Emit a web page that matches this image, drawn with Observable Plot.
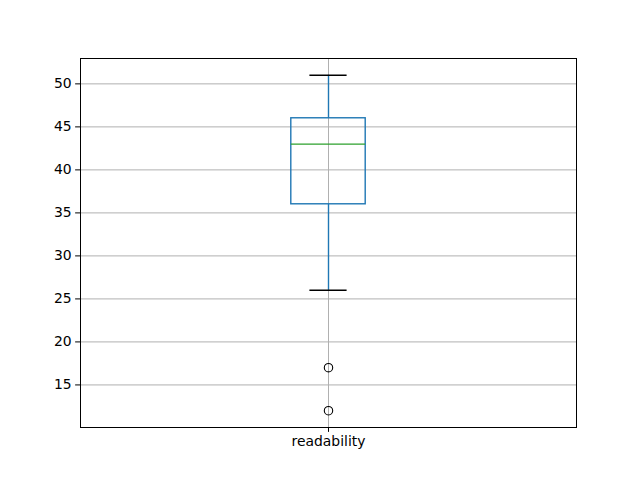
<!DOCTYPE html>
<html>
<head>
<meta charset="utf-8">
<script src="https://cdn.jsdelivr.net/npm/d3@7"></script>
<script src="https://cdn.jsdelivr.net/npm/@observablehq/plot@0.6"></script>
<style>
  html, body { margin: 0; padding: 0; background: #fff; }
  svg { display: block; }
</style>
</head>
<body>
<div id="chart"></div>
<script>
// Data
const categories = ["readability"];
const q1 = [36];
const median = [43];
const q3 = [46];
const whiskerLow = [26];
const whiskerHigh = [51];
const outlierValues = [[17, 12]];
const yTicks = [15, 20, 25, 30, 35, 40, 45, 50];

const boxHalf = 0.075;   // matplotlib default box width 0.15
const capHalf = 0.0375;  // caps half the box width

const rows = categories.map((c, i) => ({
  pos: i + 1, name: c,
  q1: q1[i], median: median[i], q3: q3[i],
  lo: whiskerLow[i], hi: whiskerHigh[i]
}));
const outliers = categories.flatMap((c, i) =>
  outlierValues[i].map(v => ({pos: i + 1, value: v})));

const allVals = rows.flatMap(r => [r.lo, r.hi]).concat(outliers.map(o => o.value));
const vmin = d3.min(allVals), vmax = d3.max(allVals);
const pad = (vmax - vmin) * 0.05;

const chart = Plot.plot({
  width: 640,
  height: 480,
  marginLeft: 80,
  marginRight: 64,
  marginTop: 58,
  marginBottom: 53,
  style: {fontFamily: "DejaVu Sans", fontSize: "13.9px", color: "#000", background: "#fff", overflow: "visible"},
  x: {domain: [0.5, categories.length + 0.5], ticks: rows.map(r => r.pos),
      tickFormat: d => categories[d - 1], label: null, tickSize: 4.86, tickPadding: 4},
  y: {domain: [vmin - pad, vmax + pad], ticks: yTicks, label: null, tickSize: 4.86, tickPadding: 4},
  marks: [
    Plot.gridX(rows.map(r => r.pos), {stroke: "#b0b0b0", strokeOpacity: 1, strokeWidth: 1}),
    Plot.gridY(yTicks, {stroke: "#b0b0b0", strokeOpacity: 1, strokeWidth: 1}),
    // whiskers
    Plot.ruleX(rows, {x: "pos", y1: "lo", y2: "q1", stroke: "#1f77b4", strokeWidth: 1.4}),
    Plot.ruleX(rows, {x: "pos", y1: "q3", y2: "hi", stroke: "#1f77b4", strokeWidth: 1.4}),
    // caps
    Plot.ruleY(rows, {y: "lo", x1: d => d.pos - capHalf, x2: d => d.pos + capHalf, stroke: "#000", strokeWidth: 1.4}),
    Plot.ruleY(rows, {y: "hi", x1: d => d.pos - capHalf, x2: d => d.pos + capHalf, stroke: "#000", strokeWidth: 1.4}),
    // box
    Plot.rect(rows, {x1: d => d.pos - boxHalf, x2: d => d.pos + boxHalf, y1: "q1", y2: "q3",
      fill: "none", stroke: "#1f77b4", strokeWidth: 1.4}),
    // median
    Plot.ruleY(rows, {y: "median", x1: d => d.pos - boxHalf, x2: d => d.pos + boxHalf, stroke: "#2ca02c", strokeWidth: 1.4}),
    // outliers
    Plot.dot(outliers, {x: "pos", y: "value", r: 4.2, fill: "none", stroke: "#000", strokeWidth: 1.1}),
    Plot.axisX({ticks: rows.map(r => r.pos), tickFormat: d => categories[d - 1], label: null, tickSize: 4.86, tickPadding: 4}),
    Plot.axisY({ticks: yTicks, label: null, tickSize: 4.86, tickPadding: 4}),
    Plot.frame({stroke: "#000", strokeWidth: 1})
  ]
});
document.getElementById("chart").appendChild(chart);
</script>
</body>
</html>
